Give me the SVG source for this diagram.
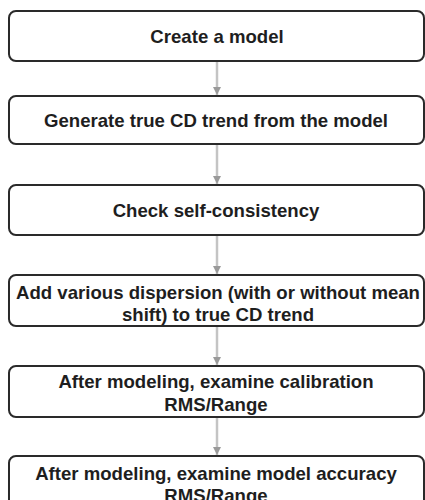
<svg xmlns="http://www.w3.org/2000/svg" width="425" height="500" viewBox="0 0 425 500">
<defs>
<style>
.box{fill:#fff;stroke:#2a2a2a;stroke-width:2}
.t{font-family:"Liberation Sans",Arial,sans-serif;font-weight:bold;font-size:18.6px;fill:#1e1e1e;text-anchor:middle}
.c{stroke:#c4c4c4;stroke-width:2.5;fill:none}
</style>
<marker id="ah" markerWidth="10" markerHeight="10" refX="8" refY="5" orient="auto" markerUnits="userSpaceOnUse">
<path d="M0,1 L8,5 L0,9 Z" fill="#9a9a9a"/>
</marker>
</defs>
<rect width="425" height="500" fill="#fff"/>
<g id="connectors">
<line class="c" x1="217" y1="62" x2="217" y2="95" marker-end="url(#ah)"/>
<line class="c" x1="217" y1="145" x2="217" y2="184" marker-end="url(#ah)"/>
<line class="c" x1="217" y1="236" x2="217" y2="274" marker-end="url(#ah)"/>
<line class="c" x1="217" y1="327" x2="217" y2="365" marker-end="url(#ah)"/>
<line class="c" x1="217" y1="418" x2="217" y2="455" marker-end="url(#ah)"/>
</g>
<g id="n1"><rect class="box" x="9" y="11" width="415" height="50" rx="7"/><text class="t" x="217" y="42.5">Create a model</text></g>
<g id="n2"><rect class="box" x="9" y="96" width="415" height="48" rx="7"/><text class="t" x="216" y="127">Generate true CD trend from the model</text></g>
<g id="n3"><rect class="box" x="9" y="185" width="415" height="50" rx="7"/><text class="t" x="216" y="216.5">Check self-consistency</text></g>
<g id="n4"><rect class="box" x="9" y="275" width="415" height="51" rx="7"/><text class="t" x="218" y="298.5">Add various dispersion (with or without mean</text><text class="t" x="218" y="320.5">shift) to true CD trend</text></g>
<g id="n5"><rect class="box" x="9" y="366" width="415" height="51" rx="7"/><text class="t" x="216" y="388">After modeling, examine calibration</text><text class="t" x="216" y="410.5">RMS/Range</text></g>
<g id="n6"><rect class="box" x="9" y="456" width="415" height="52" rx="7"/><text class="t" x="216" y="479.5">After modeling, examine model accuracy</text><text class="t" x="216" y="502">RMS/Range</text></g>
</svg>
